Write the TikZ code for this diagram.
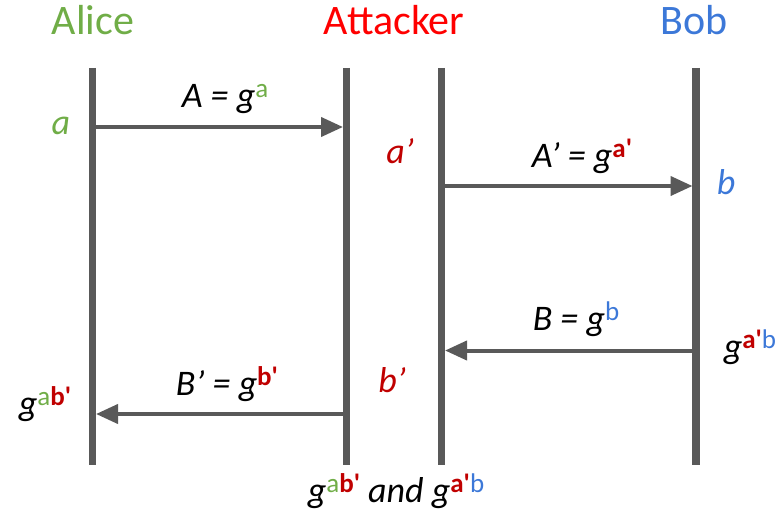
\documentclass[tikz,border=0pt]{standalone}
\usepackage{fontspec}
\setmainfont{Carlito}
\usetikzlibrary{arrows.meta}

\definecolor{lanegray}{HTML}{595959}
\definecolor{alicegreen}{HTML}{70AD47}
\definecolor{attackred}{HTML}{FF0000}
\definecolor{darkred}{HTML}{C00000}
\definecolor{bobblue}{HTML}{3C78D8}

% raised, upright exponent
\newcommand\expo[1]{\raisebox{9.5pt}{\fontsize{27}{27}\selectfont\upshape #1}}
% straight prime used inside exponents
\newcommand\sprime{\textquotesingle}

\tikzset{
  lane/.style={draw=lanegray, line width=7.5pt},
  msg/.style={draw=lanegray, line width=4pt,
    -{Triangle[length=22pt,width=19pt]}, shorten >=3.5pt},
  party/.style={inner sep=0pt, anchor=base, font=\fontsize{42}{42}\selectfont},
  lbl/.style={inner sep=0pt, anchor=base, font=\fontsize{36}{36}\selectfont\itshape},
}

\begin{document}
\begin{tikzpicture}[x=1pt,y=-1pt]
\useasboundingbox (0,0) rectangle (784,511);

% party names
\node[party, text=alicegreen] (alice) at (93,35) {Alice};
\node[party, text=attackred] (attacker) at (394,35) {Attacker};
\node[party, text=bobblue] (bob) at (694,35) {Bob};

% lifelines
\coordinate (aliceTop) at (92.5,68);   \coordinate (aliceBot) at (92.5,465);
\coordinate (atkLTop)  at (346.5,68);  \coordinate (atkLBot)  at (346.5,465);
\coordinate (atkRTop)  at (441.5,68);  \coordinate (atkRBot)  at (441.5,465);
\coordinate (bobTop)   at (696,68);    \coordinate (bobBot)   at (696,465);
\draw[lane] (aliceTop) -- (aliceBot);
\draw[lane] (atkLTop) -- (atkLBot);
\draw[lane] (atkRTop) -- (atkRBot);
\draw[lane] (bobTop) -- (bobBot);

% message end points
\coordinate (m1from) at (92.5,127);  \coordinate (m1to) at (346.5,127);
\coordinate (m2from) at (441.5,186); \coordinate (m2to) at (696,186);
\coordinate (m3from) at (696,350.5); \coordinate (m3to) at (441.5,350.5);
\coordinate (m4from) at (346.5,414); \coordinate (m4to) at (92.5,414);

\draw[msg] (m1from) -- (m1to);
\draw[msg] (m2from) -- (m2to);
\draw[msg] (m3from) -- (m3to);
\draw[msg] (m4from) -- (m4to);

% message labels
\node[lbl] (l1) at (225,107) {A = g\expo{\color{alicegreen}a}};
\node[lbl] (l2) at (582,167) {A’ = g\expo{\color{darkred}\bfseries a\sprime}};
\node[lbl] (l3) at (576,330) {B = g\expo{\color{bobblue}b}};
\node[lbl] (l4) at (227,395) {B’ = g\expo{\color{darkred}\bfseries b\sprime}};

% secrets and derived keys
\node[lbl, text=alicegreen] (sa) at (61,134) {a};
\node[lbl, text=darkred] (sap) at (400,163) {a’};
\node[lbl, text=bobblue] (sb) at (726,194) {b};
\node[lbl, text=darkred] (sbp) at (392,392) {b’};
\node[lbl] (kbob) at (750,358) {g\expo{\color{darkred}\bfseries a\sprime\color{bobblue}\mdseries b}};
\node[lbl] (kalice) at (45,415) {g\expo{\color{alicegreen}a\color{darkred}\bfseries b\sprime}};
\node[lbl] (katk) at (396,502) {g\expo{\color{alicegreen}a\color{darkred}\bfseries b\sprime} and g\expo{\color{darkred}\bfseries a\sprime\color{bobblue}\mdseries b}};
\end{tikzpicture}
\end{document}
